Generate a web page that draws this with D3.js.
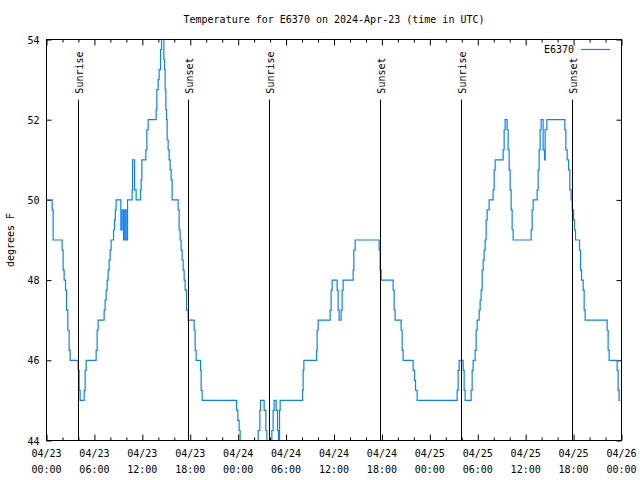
<!DOCTYPE html>
<html><head><meta charset="utf-8">
<script src="https://cdn.jsdelivr.net/npm/d3@7/dist/d3.min.js"></script>
<style>
body{margin:0;background:#fff}
text{font-family:"DejaVu Sans Mono",monospace;font-size:10px;fill:#000}
</style>
</head><body>
<svg id="chart" width="640" height="480"></svg>
<script>
// hours since 2024-04-23 00:00 UTC (step starts) and temperature (°F)
const hours = [0,0.705,0.830,1.957,2.082,2.208,2.383,2.508,2.671,2.834,2.959,3.961,4.086,4.211,4.712,4.837,4.963,6.215,6.340,6.465,
 7.217,7.342,7.467,7.592,7.717,7.843,7.968,8.093,8.394,8.519,8.619,8.719,9.308,9.471,9.646,9.809,9.971,10.147,
 10.723,10.773,11.023,11.224,11.775,11.850,11.937,12.438,12.564,12.726,13.728,13.816,13.979,14.104,14.279,14.404,14.692,14.780,14.855,14.943,15.030,15.106,15.231,15.356,15.481,15.606,15.731,
 16.483,16.608,16.733,16.859,16.984,17.109,17.234,17.359,17.535,17.735,18.487,18.612,18.737,19.288,19.363,19.488,
 23.796,23.959,24.121,24.247,26.501,26.714,26.801,27.252,27.465,27.590,28.216,28.379,28.504,28.755,28.930,29.055,29.180,29.256,
 32.061,32.136,32.224,33.814,33.889,34.014,35.517,35.642,35.767,36.393,36.518,36.643,36.894,37.019,37.144,38.396,38.484,38.647,
 41.652,41.777,41.902,43.405,43.530,43.655,44.406,44.532,44.657,45.909,46.085,46.210,46.410,
 51.419,51.545,51.670,52.171,52.296,52.421,53.172,53.298,53.423,53.673,53.798,53.924,54.174,54.299,54.424,54.550,54.675,54.800,54.925,55.050,55.176,55.426,
 55.927,56.052,56.177,57.179,57.304,57.429,57.680,57.805,57.930,58.056,58.181,58.306,58.431,
 60.685,60.810,60.936,61.437,61.562,61.687,61.812,61.938,62.188,62.364,62.439,62.652,
 64.906,65.031,65.194,65.370,65.532,65.695,65.820,65.996,66.121,66.246,66.747,66.872,66.997,67.197,67.323,67.448,
 70.202,70.327,70.452,71.454,71.580,71.705,71.830];
const temps = [50,49.75,49,48.75,48.25,48,47.75,47.25,46.75,46.25,46,45.75,45.25,45,45.25,45.75,46,46.25,46.75,47,
 47.25,47.5,47.75,48,48.25,48.5,48.75,49,49.25,49.5,49.75,50,49.25,49.75,49,49.75,49,50,
 50.25,51,50.25,50,50.25,50.5,51,51.25,51.75,52,52.25,52.75,53,53.25,53.75,54,53.5,53.25,52.75,52.25,52,51.5,51.25,51,50.75,50.5,50,
 49.75,49.25,49,48.75,48.5,48.25,48,47.75,47.25,47,46.75,46.25,46,45.75,45.25,45,
 44.75,44.5,44.25,43.5,44.25,44.75,45,44.75,44.25,43.5,44.25,44.75,45,44.75,44.25,43.5,44.75,45,
 45.25,45.75,46,46.25,46.75,47,47.25,47.75,48,47.75,47.25,47,47.25,47.75,48,48.25,48.75,49,
 48.75,48.25,48,47.75,47.25,47,46.75,46.25,46,45.75,45.5,45.25,45,
 45.25,45.75,46,45.75,45.25,45,45.25,45.75,46,46.25,46.75,47,47.25,47.5,47.75,48.25,48.5,48.75,49,49.5,49.75,50,
 50.25,50.75,51,51.25,51.75,52,51.75,51.25,50.75,50.25,49.75,49.25,49,
 49.25,49.75,50,50.25,50.75,51.25,51.75,52,51.25,51,51.75,52,
 51.75,51.25,51,50.75,50.25,50,49.75,49.5,49.25,49,48.75,48.25,48,47.75,47.25,47,
 46.75,46.25,46,45.75,45.25,45,45];

const seriesName = "E6370";
const titleText = "Temperature for E6370 on 2024-Apr-23 (time in UTC)";
const yLabel = "degrees F";
const xTickHours = [0,6,12,18,24,30,36,42,48,54,60,66,72];
const xTickDates = ["04/23","04/23","04/23","04/23","04/24","04/24","04/24","04/24","04/25","04/25","04/25","04/25","04/26"];
const xTickTimes = ["00:00","06:00","12:00","18:00","00:00","06:00","12:00","18:00","00:00","06:00","12:00","18:00","00:00"];
const xMinorHours = d3.range(0, 73, 2).filter(h => h % 6 !== 0);
const yTicks = [44,46,48,50,52,54];
const sunLabels = ["Sunrise","Sunset","Sunrise","Sunset","Sunrise","Sunset"];
const sunHours = [3.961,17.74,27.878,41.777,51.92,65.82];

const svg = d3.select("#chart");
const L = 46.5, R = 621.5, T = 39.5, B = 440.5;
const x = d3.scaleLinear().domain([0,72]).range([L,R]);
const y = d3.scaleLinear().domain([44,54]).range([B,T]);

svg.append("rect").attr("width",640).attr("height",480).attr("fill","#fff");

// title (centred over the plot area)
svg.append("text").attr("x",(L+R)/2).attr("y",23).attr("text-anchor","middle").text(titleText);

// y label
svg.append("text").attr("transform",`translate(14,${(T+B)/2}) rotate(-90)`).attr("text-anchor","middle").text(yLabel);

const g = svg.append("g");

// ticks
const yAxisL = d3.axisLeft(y).tickValues(yTicks).tickSize(-5).tickPadding(7).tickFormat(d3.format("d"));
const yAxisR = d3.axisRight(y).tickValues(yTicks).tickSize(-5).tickFormat("");
const xAxisB = d3.axisBottom(x).tickValues(xTickHours).tickSize(-6).tickFormat("");
const xAxisT = d3.axisTop(x).tickValues(xTickHours).tickSize(-6).tickFormat("");
const xMinB = d3.axisBottom(x).tickValues(xMinorHours).tickSize(-3).tickFormat("");
const xMinT = d3.axisTop(x).tickValues(xMinorHours).tickSize(-3).tickFormat("");

function styleAxis(sel){ sel.select(".domain").remove(); sel.selectAll("line").attr("stroke","#000"); }
g.append("g").attr("transform",`translate(${L},0)`).call(yAxisL).call(styleAxis)
  .selectAll("text").attr("font-family","DejaVu Sans Mono").attr("font-size",10).attr("dy","0.35em");
g.append("g").attr("transform",`translate(${R},0)`).call(yAxisR).call(styleAxis);
g.append("g").attr("transform",`translate(0,${B})`).call(xAxisB).call(styleAxis);
g.append("g").attr("transform",`translate(0,${T})`).call(xAxisT).call(styleAxis);
g.append("g").attr("transform",`translate(0,${B})`).call(xMinB).call(styleAxis);
g.append("g").attr("transform",`translate(0,${T})`).call(xMinT).call(styleAxis);

// x tick labels (two lines)
const xl = svg.append("g");
xTickHours.forEach((h,i)=>{
  const t = xl.append("text").attr("x",x(h)).attr("y",457).attr("text-anchor","middle");
  t.append("tspan").attr("x",x(h)).attr("y",457).text(xTickDates[i]);
  t.append("tspan").attr("x",x(h)).attr("y",473).text(xTickTimes[i]);
});

// clip
svg.append("clipPath").attr("id","clip").append("rect").attr("x",L).attr("y",T).attr("width",R-L).attr("height",B-T);

// data line
const pts = hours.map((h,i)=>[h,temps[i]]);
const line = d3.line().x(d=>x(d[0])).y(d=>y(d[1])).curve(d3.curveStepAfter);
svg.append("path").datum(pts).attr("d",line).attr("fill","none")
  .attr("stroke","#0a80ff").attr("stroke-width",1.2).attr("clip-path","url(#clip)");

// sunrise / sunset markers
sunHours.forEach((h,i)=>{
  const xx = Math.round(x(h)) + 0.5;
  svg.append("line").attr("x1",xx).attr("x2",xx).attr("y1",y(52.5)).attr("y2",B).attr("stroke","#000").attr("stroke-width",1);
  svg.append("text").attr("transform",`translate(${xx+4},${y(52.65)}) rotate(-90)`).attr("text-anchor","start").text(sunLabels[i]);
});

// border
svg.append("rect").attr("x",L).attr("y",T).attr("width",R-L).attr("height",B-T).attr("fill","none").attr("stroke","#000");

// legend
svg.append("text").attr("x",574).attr("y",53).attr("text-anchor","end").text(seriesName);
svg.append("line").attr("x1",581).attr("x2",610).attr("y1",49.5).attr("y2",49.5).attr("stroke","#0a80ff").attr("stroke-width",1.2);
</script>
</body></html>
